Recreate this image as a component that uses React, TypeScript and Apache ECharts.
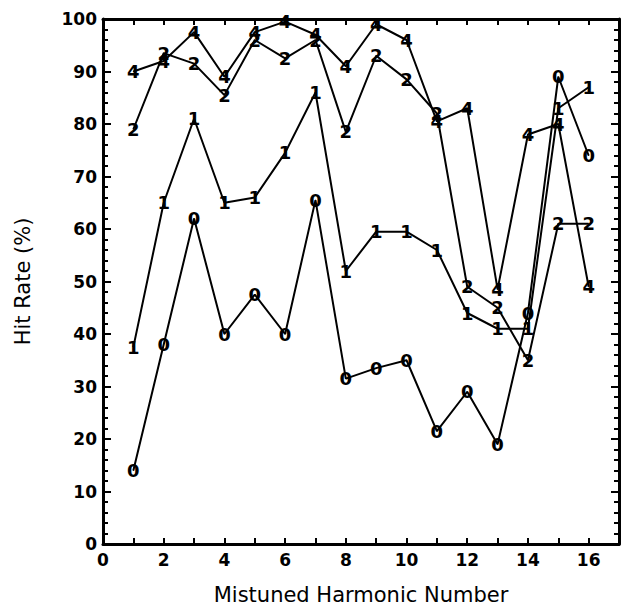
import React, { useEffect, useRef } from "react";
import * as echarts from "echarts";

const harmonics = [1, 2, 3, 4, 5, 6, 7, 8, 9, 10, 11, 12, 13, 14, 15, 16];
const series0 = [14, 38, 62, 40, 47.5, 40, 65.5, 31.5, 33.5, 35, 21.5, 29, 19, 44, 89, 74];
const series1 = [37.5, 65, 81, 65, 66, 74.5, 86, 52, 59.5, 59.5, 56, 44, 41, 41, 83, 87];
const series2 = [79, 93.5, 91.5, 85.5, 96, 92.5, 96, 78.5, 93, 88.5, 82, 49, 45, 35, 61, 61];
const series4 = [90, 92, 97.5, 89, 97.5, 99.5, 97, 91, 99, 96, 80.5, 83, 48.5, 78, 80, 49];

const markerDefs: [string, number[]][] = [
  ["0", series0],
  ["1", series1],
  ["2", series2],
  ["4", series4],
];

const FONT = "DejaVu Sans";

export default function App() {
  const ref = useRef<HTMLDivElement>(null);
  useEffect(() => {
    document.body.style.margin = "0";
    const chart = echarts.init(ref.current!, null, { renderer: "svg" });
    const axisLine = { show: true, onZero: false, lineStyle: { color: "#000", width: 3 } };
    const option: any = {
      animation: false,
      backgroundColor: "#fff",
      grid: { left: 103, top: 19, right: 4, bottom: 65, containLabel: false },
      xAxis: [
        {
          type: "value",
          min: 0,
          max: 17,
          interval: 1,
          position: "bottom",
          axisLine,
          axisTick: { show: true, inside: true, length: 6, lineStyle: { color: "#000", width: 2 } },
          splitLine: { show: false },
          axisLabel: {
            color: "#000",
            fontFamily: FONT,
            fontWeight: "bold",
            fontSize: 17,
            margin: 7,
            formatter: (v: number) => (v % 2 === 0 ? String(v) : ""),
          },
          name: "Mistuned Harmonic Number",
          nameLocation: "middle",
          nameGap: 40,
          nameTextStyle: { color: "#000", fontFamily: FONT, fontSize: 21 },
        },
        {
          type: "value",
          min: 0,
          max: 17,
          interval: 1,
          position: "top",
          axisLine,
          axisTick: { show: true, inside: true, length: 6, lineStyle: { color: "#000", width: 2 } },
          axisLabel: { show: false },
          splitLine: { show: false },
        },
      ],
      yAxis: [
        {
          type: "value",
          min: 0,
          max: 100,
          interval: 10,
          position: "left",
          axisLine,
          axisTick: { show: true, inside: true, length: 8, lineStyle: { color: "#000", width: 2 } },
          minorTick: { show: true, splitNumber: 5, length: 5, lineStyle: { color: "#000", width: 2 } },
          splitLine: { show: false },
          axisLabel: {
            color: "#000",
            fontFamily: FONT,
            fontWeight: "bold",
            fontSize: 17,
            margin: 6,
          },
          name: "Hit Rate (%)",
          nameLocation: "middle",
          nameGap: 70,
          nameTextStyle: { color: "#000", fontFamily: FONT, fontSize: 21 },
        },
        {
          type: "value",
          min: 0,
          max: 100,
          interval: 10,
          position: "right",
          axisLine,
          axisTick: { show: true, inside: true, length: 8, lineStyle: { color: "#000", width: 2 } },
          minorTick: { show: true, splitNumber: 5, length: 5, lineStyle: { color: "#000", width: 2 } },
          splitLine: { show: false },
          axisLabel: { show: false },
        },
      ],
      series: markerDefs.map(([mark, vals]) => ({
        type: "line",
        name: mark,
        xAxisIndex: 0,
        yAxisIndex: 0,
        data: harmonics.map((h, i) => [h, vals[i]]),
        symbol: "circle",
        symbolSize: 1,
        showSymbol: true,
        itemStyle: { color: "#000" },
        lineStyle: { color: "#000", width: 2 },
        label: {
          show: true,
          position: "inside",
          formatter: mark,
          color: "#000",
          fontFamily: FONT,
          fontWeight: "bold",
          fontSize: 18,
        },
        labelLayout: { hideOverlap: false },
      })),
    };
    chart.setOption(option);
    return () => chart.dispose();
  }, []);
  return <div ref={ref} style={{ width: 623, height: 610 }} />;
}
